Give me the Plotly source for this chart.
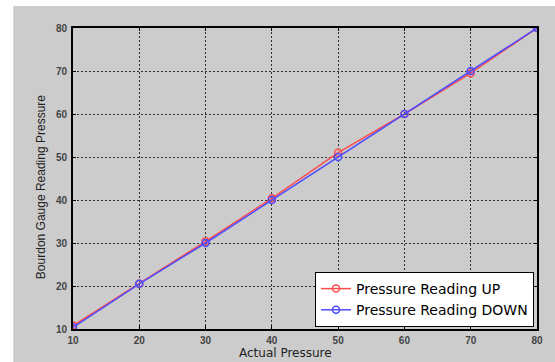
import plotly.graph_objects as go

actual = [10, 20, 30, 40, 50, 60, 70, 80]
reading_up = [10.8, 20.5, 30.4, 40.4, 51.0, 60.0, 69.5, 80.0]
reading_down = [10.4, 20.5, 30.0, 40.0, 50.0, 60.0, 70.0, 80.0]
tick_vals = [10, 20, 30, 40, 50, 60, 70, 80]

W, H = 555, 362
L, R, T, B = 73, 539, 28, 329

fig = go.Figure()
fig.add_trace(go.Scatter(x=actual, y=reading_up, mode="lines+markers",
                         name="Pressure Reading UP",
                         line=dict(color="#ff4d4d", width=1.5),
                         marker=dict(symbol="circle-open", size=7, color="#ff4d4d", line=dict(width=1.5))))
fig.add_trace(go.Scatter(x=actual, y=reading_down, mode="lines+markers",
                         name="Pressure Reading DOWN",
                         line=dict(color="#4d4dff", width=1.5),
                         marker=dict(symbol="circle-open", size=7, color="#4d4dff", line=dict(width=1.5))))

def px_x(p):
    return (p - L) / (R - L)

def px_y(p):
    return (B - p) / (B - T)

axis_common = dict(
    range=[10, 80], tickvals=tick_vals, showgrid=True, gridcolor="#333333",
    griddash="2px,2px", gridwidth=1, showline=True, linecolor="#000000", linewidth=2,
    mirror="ticks", ticks="inside", ticklen=3, tickcolor="#000000",
    tickfont=dict(family="Liberation Sans, Arial", size=10, color="#444444", weight="bold"),
    zeroline=False, fixedrange=True,
)

fig.update_layout(
    width=W, height=H,
    margin=dict(l=L, r=W - R, t=T, b=H - B, pad=0),
    paper_bgcolor="#ffffff", plot_bgcolor="#ffffff",
    xaxis=dict(**axis_common, ticklabelstandoff=1),
    yaxis=dict(**axis_common, ticklabelstandoff=2),
    showlegend=True,
    legend=dict(x=px_x(536), y=px_y(327), xanchor="right", yanchor="bottom",
                bgcolor="#ffffff", bordercolor="#000000", borderwidth=1,
                font=dict(family="DejaVu Sans, Verdana", size=14, color="#000000"),
                tracegroupgap=0, itemwidth=30),
    shapes=[dict(type="rect", xref="paper", yref="paper", layer="below",
                 x0=px_x(13), x1=px_x(W + 5), y0=px_y(H + 5), y1=px_y(6),
                 fillcolor="#cccccc", line=dict(width=0))],
    annotations=[
        dict(text="Actual Pressure", xref="paper", yref="paper",
             x=px_x(286), y=px_y(353), xanchor="center", yanchor="middle",
             showarrow=False, font=dict(family="DejaVu Sans, Verdana", size=12, color="#222222")),
        dict(text="Bourdon Gauge Reading Pressure", xref="paper", yref="paper",
             x=px_x(41), y=px_y(187), xanchor="center", yanchor="middle", textangle=-90,
             showarrow=False, font=dict(family="Liberation Sans, Arial", size=12, color="#222222")),
    ],
)

fig.write_html("out.html")
